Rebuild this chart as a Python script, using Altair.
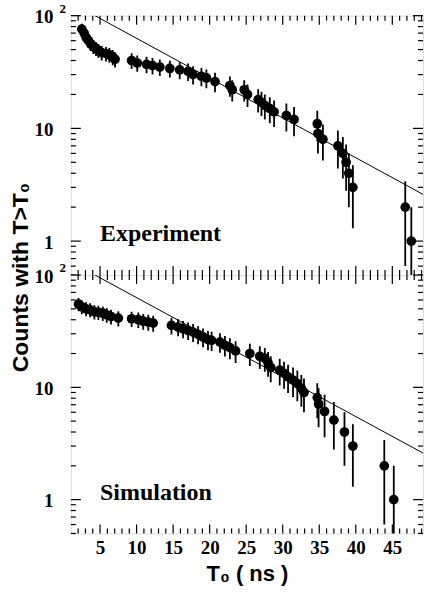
import altair as alt
import pandas as pd

# ---------------- data ----------------
exp_t = [2.50, 2.82, 3.09, 3.41, 3.73, 4.09, 4.45, 4.77, 5.23, 5.82, 6.27, 6.73, 7.05,
         9.32, 10.09, 11.36, 12.18, 13.18, 14.55, 15.90, 17.05, 17.73, 18.87, 19.55,
         20.73, 22.77, 23.09, 24.73, 25.18, 26.64, 27.09, 27.55, 28.23, 28.82, 30.50,
         31.55, 34.73, 34.82, 35.50, 37.55, 38.23, 38.68, 39.05, 39.60, 46.77, 47.60]
exp_counts = [76, 70, 64, 60, 56, 53, 51, 49, 47, 46, 45, 43, 41,
              40, 38, 37, 36, 35, 34, 33, 32, 30, 29, 28,
              26, 24, 22, 22, 20, 18, 17, 16, 15, 14, 13,
              12, 11, 9, 8, 7, 6, 5, 4, 3, 2, 1]
exp_err = [8.7, 8.4, 8.0, 7.7, 7.5, 7.3, 7.1, 7.0, 6.9, 6.8, 6.7, 6.6, 6.4,
           6.3, 6.2, 6.1, 6.0, 5.9, 5.8, 5.7, 5.7, 5.5, 5.4, 5.3,
           5.1, 4.9, 4.7, 4.7, 4.5, 4.2, 4.1, 4.0, 3.9, 3.7, 3.6,
           3.5, 3.3, 3.0, 2.8, 2.6, 2.4, 2.2, 2.0, 1.7, 1.4, 1.0]

sim_t = [2.05, 2.50, 3.09, 3.64, 4.23, 4.77, 5.37, 5.91, 6.50, 7.50,
         9.32, 10.23, 10.91, 11.60, 12.27, 14.77, 15.68, 16.36, 17.05, 17.73,
         18.41, 19.09, 19.77, 20.27, 21.41, 22.09, 22.77, 23.55, 25.50, 26.86,
         27.55, 28.00, 28.36, 29.59, 30.18, 30.73, 31.41, 32.00, 32.55, 32.91,
         34.73, 34.91, 35.73, 37.00, 38.45, 39.60, 43.90, 45.20]
sim_counts = [55.0, 52.0, 50.0, 49.0, 47.0, 46.6, 45.7, 44.3, 42.7, 41.3,
              40.8, 40.0, 38.8, 38.1, 37.3, 35.6, 34.4, 33.2, 32.1, 31.0,
              29.6, 28.1, 26.6, 26.2, 25.3, 23.7, 22.6, 21.1, 20.0, 18.9,
              18.1, 16.5, 15.0, 14.2, 13.3, 12.4, 11.6, 10.8, 9.8, 9.0,
              8.1, 7.1, 6.1, 5.1, 4.0, 3.0, 2.0, 1.0]
sim_err = [7.4, 7.2, 7.1, 7.0, 6.9, 6.8, 6.8, 6.7, 6.5, 6.4,
           6.4, 6.3, 6.2, 6.2, 6.1, 6.0, 5.9, 5.8, 5.7, 5.6,
           5.4, 5.3, 5.2, 5.1, 5.0, 4.9, 4.8, 4.6, 4.5, 4.3,
           4.3, 4.1, 3.9, 3.8, 3.6, 3.5, 3.4, 3.3, 3.1, 3.0,
           2.8, 2.7, 2.5, 2.3, 2.0, 1.7, 1.4, 1.0]

fit_t = [4.3, 49.2]
fit_counts = [100.0, 2.6]

x_major = [5, 10, 15, 20, 25, 30, 35, 40, 45]
x_minor = [2, 3, 4, 6, 7, 8, 9, 11, 12, 13, 14, 16, 17, 18, 19, 21, 22, 23, 24,
           26, 27, 28, 29, 31, 32, 33, 34, 36, 37, 38, 39, 41, 42, 43, 44, 46, 47, 48, 49]
y_major = [1, 10, 100]
y_minor = [0.5, 0.6, 0.7, 0.8, 0.9, 2, 3, 4, 5, 6, 7, 8, 9,
           20, 30, 40, 50, 60, 70, 80, 90]

panel_labels = ["Experiment", "Simulation"]

# ---------------- styling ----------------
W = 353
H_TOP = 260
H_BOT = 259
X_DOMAIN = [1, 49.2]
Y_DOMAIN = [0.5, 100]
SERIF = "Liberation Serif"
SANS = "Liberation Sans"
TICK_W = 1.2


def xs():
    return alt.Scale(domain=X_DOMAIN, nice=False, zero=False)


def ys():
    return alt.Scale(type="log", domain=Y_DOMAIN, nice=False)


def panel(t, c, e, label, H, show_x, show_title):
    df = pd.DataFrame({"t": t, "c": c, "e": e})
    df["lo"] = (df["c"] - df["e"]).clip(lower=0.05)
    df["hi"] = df["c"] + df["e"]

    if show_x:
        xaxis = alt.Axis(values=x_major, ticks=False, domain=False, grid=False,
                         labelFont=SERIF, labelFontWeight="bold", labelFontSize=19,
                         labelColor="black", labelPadding=5,
                         title="T₀ ( ns )", titleFont=SANS, titleFontSize=22,
                         titleFontWeight="bold", titleColor="black", titlePadding=6)
    else:
        xaxis = None

    ykw = dict(values=y_major, labelExpr="datum.value == 1 ? '1' : '10'",
               ticks=False, domain=False, grid=False,
               labelFont=SERIF, labelFontWeight="bold", labelFontSize=19,
               labelColor="black", labelPadding=18, labelBaseline="middle",
               labelOffset=1)
    if show_title:
        ykw.update(title="Counts with T>T₀", titleFont=SANS, titleFontSize=23,
                   titleFontWeight="bold", titleColor="black", titleAngle=270,
                   titleX=-50, titleY=2, titleAlign="center", titleBaseline="middle")
    else:
        ykw.update(title=None)
    yaxis = alt.Axis(**ykw)

    def X(field):
        return alt.X(field, scale=xs(), axis=xaxis)

    def Y(field):
        return alt.Y(field, scale=ys(), axis=yaxis)

    fit_df = pd.DataFrame({"t": fit_t, "c": fit_counts})
    fit = alt.Chart(fit_df).mark_line(color="black", strokeWidth=1, clip=True).encode(
        x=X("t:Q"), y=Y("c:Q"))

    bars = alt.Chart(df).mark_rule(color="black", strokeWidth=1.8, clip=True).encode(
        x=X("t:Q"), y=Y("lo:Q"), y2="hi:Q")

    pts = alt.Chart(df).mark_circle(color="black", size=95, opacity=1).encode(
        x=X("t:Q"), y=Y("c:Q"))

    def x_ticks(vals, length):
        d = pd.DataFrame({"v": vals})
        base = alt.Chart(d).mark_rule(color="black", strokeWidth=TICK_W)
        return [base.encode(x=X("v:Q"), y=alt.value(0), y2=alt.value(length)),
                base.encode(x=X("v:Q"), y=alt.value(H), y2=alt.value(H - length))]

    def y_ticks(vals, length):
        d = pd.DataFrame({"v": vals})
        base = alt.Chart(d).mark_rule(color="black", strokeWidth=TICK_W)
        return [base.encode(y=Y("v:Q"), x=alt.value(0), x2=alt.value(length)),
                base.encode(y=Y("v:Q"), x=alt.value(W), x2=alt.value(W - length))]

    lab_df = pd.DataFrame({"t": [5.0], "c": [1.0], "label": [label]})
    lab = alt.Chart(lab_df).mark_text(font=SERIF, fontWeight="bold", fontSize=24,
                                      align="left", baseline="alphabetic",
                                      color="black").encode(
        x=X("t:Q"), y=Y("c:Q"), text="label:N")

    sup_df = pd.DataFrame({"v": [y_major[-1]]})
    sup = alt.Chart(sup_df).mark_text(text="2", font=SERIF, fontWeight="bold",
                                      fontSize=13, align="center", baseline="middle",
                                      dy=-7, color="black").encode(
        y=Y("v:Q"), x=alt.value(-8))

    layers = [pts, fit, bars]
    layers += x_ticks(x_major, 9) + x_ticks(x_minor, 5)
    layers += y_ticks(y_major, 10) + y_ticks(y_minor, 5)
    layers += [lab, sup]
    return alt.layer(*layers).properties(width=W, height=H)


top = panel(exp_t, exp_counts, exp_err, panel_labels[0], H_TOP, False, False)
bottom = panel(sim_t, sim_counts, sim_err, panel_labels[1], H_BOT, True, True)

chart = alt.vconcat(top, bottom, spacing=0, bounds="flush").properties(
    autosize=alt.AutoSizeParams(type="pad"),
    padding={"left": 9, "top": 1, "right": 0, "bottom": 0},
).configure_view(stroke="black", strokeWidth=1.3).configure(background="white")

chart.save("out.html", embed_options={"renderer": "svg", "actions": False})
